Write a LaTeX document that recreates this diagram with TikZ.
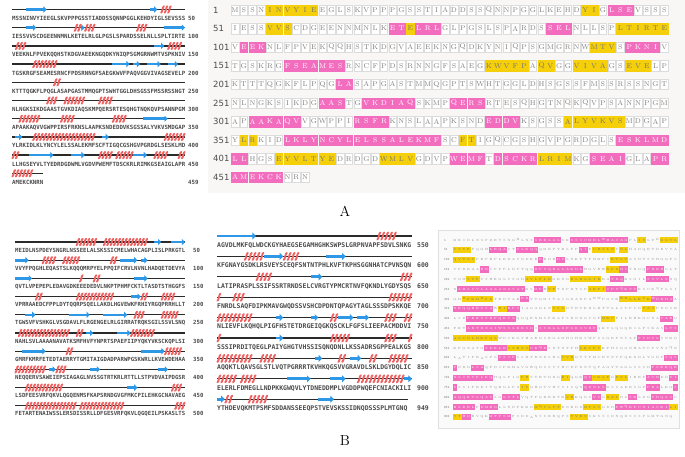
\documentclass[tikz,border=0pt]{standalone}
\usepackage{fontspec}
\usetikzlibrary{arrows.meta}
\newfontfamily\seqmono{DejaVu Sans Mono}
\newfontfamily\numsans{DejaVu Sans}
\definecolor{bbline}{HTML}{2A2A2A}
\definecolor{strandblue}{HTML}{2E98E6}
\definecolor{helixred}{HTML}{F06262}
\definecolor{hlpink}{HTML}{F36DBE}
\definecolor{hlyellow}{HTML}{F5D00A}
\definecolor{seqgrey}{HTML}{4A4A4A}
\definecolor{boxedge}{HTML}{DCDCDC}
\definecolor{panelbg}{HTML}{F8F7F6}
\tikzset{
  backbone/.style={draw=bbline, line width=1.3pt},
  strandS/.style={draw=strandblue, line width=2.6pt, -{Triangle[length=3.2pt,width=6.2pt]}},
  strandM/.style={draw=strandblue, line width=2.9pt, -{Triangle[length=3.6pt,width=6.8pt]}},
  helixstroke/.style={draw=helixred, line width=1.9pt, line cap=round},
  seqA/.style={font=\seqmono\bfseries\fontsize{5.75}{6}\selectfont, text=seqgrey, inner sep=0pt, anchor=base west},
  seqBL/.style={font=\seqmono\bfseries\fontsize{5.65}{6}\selectfont, text=seqgrey, inner sep=0pt, anchor=base west},
  seqBM/.style={font=\seqmono\bfseries\fontsize{6.45}{7}\selectfont, text=seqgrey, inner sep=0pt, anchor=base west},
  Aplainbox/.style={draw=boxedge, fill=white, line width=0.5pt, minimum width=7.6pt, minimum height=10.5pt, inner sep=0pt, font=\fontsize{7}{7}\selectfont, text=black!50},
  Astrandbox/.style={draw=hlyellow, fill=hlyellow, minimum width=7.6pt, minimum height=10.5pt, inner sep=0pt, font=\fontsize{7}{7}\selectfont, text=black!55},
  Ahelixbox/.style={draw=hlpink, fill=hlpink, minimum width=7.6pt, minimum height=10.5pt, inner sep=0pt, font=\fontsize{7}{7}\selectfont, text=white},
  Bplainbox/.style={minimum width=4.1pt, minimum height=6.2pt, inner sep=0pt, font=\fontsize{3}{3}\selectfont, text=black!45},
  Bstrandbox/.style={fill=hlyellow, minimum width=4.1pt, minimum height=6.2pt, inner sep=0pt, font=\fontsize{3}{3}\selectfont, text=black!55},
  Bhelixbox/.style={fill=hlpink, minimum width=4.1pt, minimum height=6.2pt, inner sep=0pt, font=\fontsize{3}{3}\selectfont, text=white},
  numAR/.style={font=\numsans\fontsize{8.5}{9}\selectfont, text=black!70, inner sep=0pt, anchor=west},
  numBR/.style={font=\numsans\fontsize{2.8}{3}\selectfont, text=black!55, inner sep=0pt, anchor=west},
  panellabel/.style={font=\fontsize{14.5}{16}\selectfont, inner sep=0pt}
}
\makeatletter
\newcount\rs@i
\def\rsRow#1#2{\rs@i=0 \def\rs@row{#1}\rs@next#2\relax}
\def\rs@next#1{\ifx#1\relax\expandafter\@gobble\else\expandafter\@firstofone\fi{\rs@do{#1}}}
\def\rs@do#1{\advance\rs@i by 1\relax\rsLetter{#1}\rs@next}
\def\rsLetter#1{%
  \pgfmathsetmacro\rsx{\rsXo+(\the\rs@i-1)*\rsCW}%
  \edef\rsid{\rs@row-\the\rs@i}%
  \ifcsname hl\rsKind-\rsid\endcsname
    \edef\rsStyle{\if E\csname hl\rsKind-\rsid\endcsname strand\else helix\fi}%
  \else
    \def\rsStyle{plain}%
  \fi
  \edef\rsTmp{\noexpand\node[\rsKind\rsStyle box] (\rsKind r\rsid) at (\rsx,\rsY) {#1};}%
  \rsTmp}
\makeatother
% #1 strands, #2 helices, #3 x0, #4 char width, #5 first line y, #6 row step, #7 first row, #8 strand style, #9 helix scale
\newcommand\ssdraw[9]{%
  \foreach \r/\a/\b in #1 {
    \pgfmathsetmacro\ya{#5+(\r-#7)*#6}
    \pgfmathsetmacro\xa{#3+(\a-1)*#4}
    \pgfmathsetmacro\xb{#3+\b*#4}
    \draw[#8] (\xa,\ya) -- (\xb,\ya);
  }
  \foreach \r/\a/\b in #2 {
    \pgfmathsetmacro\ya{#5+(\r-#7)*#6}
    \pgfmathsetmacro\xa{#3+(\a-1)*#4}
    \pgfmathsetmacro\xb{#3+\b*#4}
    \pgfmathtruncatemacro\nl{max(1,round((\xb-\xa)/(#4)))}
    \pgfmathsetmacro\st{(\xb-\xa)/\nl}
    \foreach \k in {1,...,\nl} {
      \pgfmathsetmacro\xx{\xa+(\k-0.5)*\st}
      \draw[helixstroke] (\xx-1.4*#9,\ya+3.2*#9) .. controls (\xx-0.2*#9,\ya+3.2*#9) and (\xx+0.2*#9,\ya-3.2*#9) .. (\xx+1.4*#9,\ya-3.2*#9);
    }
  }
}
\def\AE{1/5/10, 1/41/42, 2/5/7, 2/21/21, 2/45/50, 3/42/44, 4/30/34, 4/36/37, 4/40/43, 4/46/48, 7/39/45, 8/2/3, 8/27/28, 9/6/12, 9/18/21, 9/36/39}
\def\AH{1/44/46, 2/19/20, 2/22/24, 2/37/39, 3/2/4, 3/46/49, 4/7/13, 5/13/14, 6/11/13, 6/16/21, 6/26/29, 7/3/8, 7/15/18, 7/30/33, 8/7/24, 8/45/50, 9/1/2, 9/26/29, 9/31/35, 9/42/45, 9/49/50, 10/1/6}
\def\BLE{1/42/43, 1/47/50, 2/1/4, 2/32/36, 2/38/39, 3/1/5, 3/36/39, 4/35/37, 5/4/6, 5/17/22, 5/27/33, 6/22/23, 6/31/34, 7/3/9, 7/38/44, 8/11/12, 8/23/25, 8/43/45, 9/34/36}
\def\BLH{1/19/24, 1/27/39, 2/9/12, 2/15/19, 2/29/30, 3/20/20, 3/24/25, 4/7/8, 4/19/29, 4/38/39, 4/44/47, 5/36/38, 5/44/48, 6/2/16, 6/19/20, 6/35/41, 7/16/17, 7/45/49, 8/1/9, 8/13/15, 9/4/14, 9/47/49, 10/4/18, 10/20/32, 10/48/50}
\def\BME{11/1/10, 12/13/17, 12/29/33, 13/25/27, 15/16/17, 15/25/26, 15/32/35, 15/37/39, 16/16/17, 17/26/27, 17/35/37, 18/19/24, 18/30/33, 18/49/50, 19/1/2, 19/27/30}
\def\BMH{11/42/46, 12/8/12, 12/18/21, 13/11/14, 13/48/50, 14/1/1, 14/5/7, 14/45/50, 15/1/9, 15/30/31, 15/44/46, 15/49/50, 16/1/1, 16/30/34, 16/44/46, 16/50/50, 17/1/9, 17/12/15, 17/32/33, 17/40/41, 17/45/49, 18/1/5, 18/7/10, 18/37/48, 19/3/4, 19/9/13}
\def\Aseq{1/MSSNINVYIEEGLSKVPPPGSSTIADDSSQNNPGGLKEHDYIGLSEVSSS/50/1,
2/IESSVVSCDGEENNMNLKETELRLGLPGSLSPARDSSELNLLSPLTIRTE/100/51,
3/VEEKNLFPVEKQQHSTKDGVAEEKNGQDKYNIQPSGMGRNWMTVSPKNIV/150/101,
4/TGSKRGFSEAMESRNCFPDSRNNGFSAEGKWVFPAQVGGVIVAGSEVELP/200/151,
5/KTTTQGKFLPQGLASAPGASTMMQGPTSWHTGGLDHSGSSFMSSRSSNGT/250/201,
6/NLNGKSIKDGAASTGVKDIAQSKMPQERSRTESQHGTNQKQVPSANNPGM/300/251,
7/APAAKAQVVGWPPIRSFRKNSLAAPKSNDEDDVKSGSSALYVKVSMDGAP/350/301,
8/YLRKIDLKLYNCYLELSSALEKMFSCFTIGQCGSHGVPGRDGLSESKLMD/400/351,
9/LLHGSEYVLTYEDRDGDWMLVGDVPWEMFTDSCKRLRIMKGSEAIGLAPR/450/401,
10/AMEKCKNRN/459/451}
\def\BLseq{1/MEIDLNSPDEYSNGRLNSSEELALSKSSICMELWHACAGPLISLPRKGTL/50/1,
2/VVYFPQGHLEQASTSLKQQQMRPYELPPQIFCRVLNVNLHADQETDEVYA/100/51,
3/QVTLVPEPEPLEDAVGDKEEEDEDVLNKPTPHMFCKTLTASDTSTHGGFS/150/101,
4/VPRRAAEDCFPPLDYTQQRPSQELLAKDLHGVEWKFRHIYRGQPRRHLLT/200/151,
5/TGWSVFVSHKGLVSGDAVLFLRGENGELRLGIRRATRQKSGILSSVLSNQ/250/201,
6/NAHLSVLAAAANAVATKSMFHVFYNPRTSPAEFIIPYQKYVKSCKQPLSI/300/251,
7/GMRFKMRFETEDTAERRYTGMITAIGDADPARWPGSKWRLLKVEWDEHAA/350/301,
8/NEQQERVSAWEIEPSIAGAGLNVSSGTRTKRLRTTLLSTPVDVAIPDGSR/400/351,
9/LSDFEESVRFQKVLQGQENMSFKAPSRNDGVGFMKCPILEHKGCNAVAEG/450/401,
10/FETARTENAIWSSLERSDISSRLLDFGESVRFQKVLQGQEILPSKASLTS/500/451}
\def\BMseq{11/AGVDLMKFQLWDCKGYHAEGSEGAMHGHKSWPSLGRPNVAPFSDVLSNKG/550/501,
12/KFGNAYGSDKLRSVEYSCEQFSNTNTPHLKVFTKPHSGGNHATCPVNSQN/600/551,
13/LATIPRASPLSSIFSSRTRNDSELCVRGTYPMCRTNVFQKNDLYGDYSQS/650/601,
14/FNRDLSAQFDIPKMAVGWQDSSVSHCDPDNTQPAGYTAGLSSSDPSKKQE/700/651,
15/NLIEVFLKQHQLPIGFHSTETDRGEIQGKQSCKLFGFSLIEEPACMDDVI/750/701,
16/SSSIPRDITQEGLPAIYGHGTVHSSISQNQDNLLKSSADRSGPPEALKGS/800/751,
17/AQQKTLQAVSGLSTLVQTPGRRRTKVHKQGSVVGRAVDLSKLDGYDQLIC/850/801,
18/ELERLFDMEGLLNDPKKGWQVLYTDNEDDMPLVGDDPWQEFCNIACKILI/900/851,
19/YTHDEVQKMTPSMFSDDANSSEEQPSTVEVSKSSIDNQDSSSPLMTGNQ/949/901}
\begin{document}
\begin{tikzpicture}[x=1pt,y=-1pt]
\useasboundingbox (0,0) rectangle (685,456);
\fill[white] (0,0) rectangle (685,456);
% highlight tables
\foreach \r/\a/\b in \AE {\foreach \i in {\a,...,\b}{\expandafter\gdef\csname hlA-\r-\i\endcsname{E}}}
\foreach \r/\a/\b in \AH {\foreach \i in {\a,...,\b}{\expandafter\gdef\csname hlA-\r-\i\endcsname{H}}}
\foreach \r/\a/\b in \BLE {\foreach \i in {\a,...,\b}{\expandafter\gdef\csname hlB-\r-\i\endcsname{E}}}
\foreach \r/\a/\b in \BLH {\foreach \i in {\a,...,\b}{\expandafter\gdef\csname hlB-\r-\i\endcsname{H}}}
\foreach \r/\a/\b in \BME {\foreach \i in {\a,...,\b}{\expandafter\gdef\csname hlB-\r-\i\endcsname{E}}}
\foreach \r/\a/\b in \BMH {\foreach \i in {\a,...,\b}{\expandafter\gdef\csname hlB-\r-\i\endcsname{H}}}
% ---------- panel A left ----------
\foreach \r/\s/\n/\f in \Aseq {
  \pgfmathsetmacro\ly{9.5+(\r-1)*18.2}
  \pgfmathsetmacro\ty{18.3+(\r-1)*18.2+2.1}
  \pgfmathtruncatemacro\len{\n-\f+1}
  \draw[backbone] (12,\ly) -- (12+\len*3.46,\ly);
  \node[seqA] (alt\r) at (12,\ty) {\s};
  \node[seqA] (aln\r) at (188,\ty) {\n};
}
\ssdraw{\AE}{\AH}{12}{3.46}{9.5}{18.2}{1}{strandS}{1}
% ---------- panel A right ----------
\fill[panelbg] (208,0) rectangle (685,193);
\def\rsKind{A}\def\rsXo{235}\def\rsCW{8.76}
\foreach \r/\s/\n/\f in \Aseq {
  \pgfmathsetmacro\rsY{10+(\r-1)*18.6}
  \node[numAR] (arn\r) at (213,\rsY) {\f};
  \edef\tmp{\noexpand\rsRow{\r}{\s}}\tmp
}
\node[panellabel] (labA) at (345,211) {A};
% ---------- panel B left ----------
\foreach \r/\s/\n/\f in \BLseq {
  \pgfmathsetmacro\ly{242+(\r-1)*18.2}
  \pgfmathsetmacro\ty{250+(\r-1)*18.2+2.1}
  \draw[backbone] (15,\ly) -- (15+50*3.4,\ly);
  \node[seqBL] (blt\r) at (15,\ty) {\s};
  \node[seqBL] (bln\r) at (193,\ty) {\n};
}
\ssdraw{\BLE}{\BLH}{15}{3.4}{242}{18.2}{1}{strandS}{1}
% ---------- panel B middle ----------
\foreach \r/\s/\n/\f in \BMseq {
  \pgfmathsetmacro\ly{236+(\r-11)*20.4}
  \pgfmathsetmacro\ty{245+(\r-11)*20.4+2.3}
  \pgfmathtruncatemacro\len{\n-\f+1}
  \draw[backbone] (217,\ly) -- (217+\len*3.9,\ly);
  \node[seqBM] (bmt\r) at (217,\ty) {\s};
  \node[seqBM] (bmn\r) at (417,\ty) {\n};
}
\ssdraw{\BME}{\BMH}{217}{3.9}{236}{20.4}{11}{strandM}{1.1}
% ---------- panel B right ----------
\filldraw[fill=black!2, draw=black!12] (438,230) rectangle (679,428);
\def\rsKind{B}\def\rsXo{455}\def\rsCW{4.5}
\foreach \r/\s/\n/\f in \BLseq {
  \pgfmathsetmacro\rsY{240+(\r-1)*9.83}
  \node[numBR] (brn\r) at (444,\rsY) {\f};
  \edef\tmp{\noexpand\rsRow{\r}{\s}}\tmp
}
\foreach \r/\s/\n/\f in \BMseq {
  \pgfmathsetmacro\rsY{240+(\r-1)*9.83}
  \node[numBR] (brn\r) at (444,\rsY) {\f};
  \edef\tmp{\noexpand\rsRow{\r}{\s}}\tmp
}
\node[panellabel] (labB) at (345,441) {B};
\end{tikzpicture}
\end{document}
